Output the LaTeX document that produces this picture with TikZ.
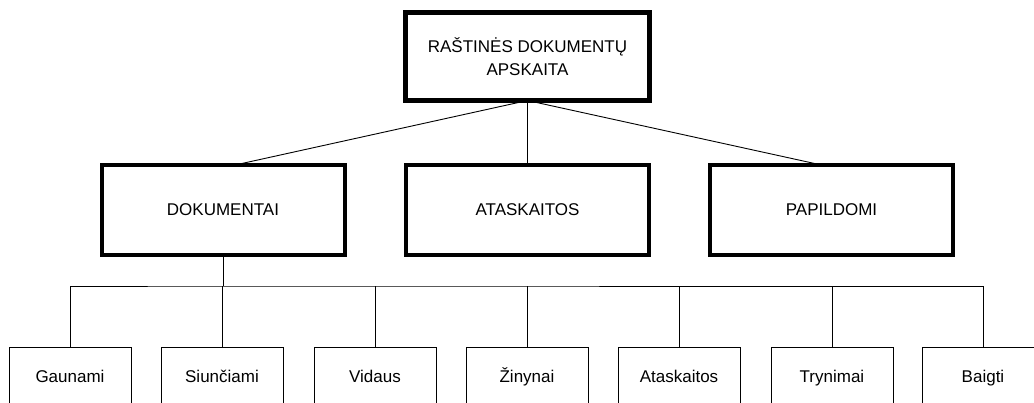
\documentclass[tikz,border=0pt]{standalone}
\usepackage{fontspec}
\setmainfont{Liberation Sans}
\begin{document}
\begin{tikzpicture}[x=1pt,y=-1pt,
  every node/.style={font=\fontsize{17}{23}\selectfont, inner sep=0pt, outer sep=0pt, align=center},
  rootbox/.style={draw, line width=5pt, minimum width=244pt, minimum height=88pt},
  groupbox/.style={draw, line width=4pt, minimum width=243pt, minimum height=90pt},
  leafbox/.style={draw, line width=1pt, minimum width=122pt, minimum height=62pt,
    text height=12.5pt, text depth=3.5pt},
  link/.style={line width=0.9pt}]
  \useasboundingbox (0,0) rectangle (1034,402);
  \clip (0,0) rectangle (1034,402);

  % top level
  \node[rootbox] (root) at (527.5,56.5) {RAŠTINĖS DOKUMENTŲ\\APSKAITA};

  % second level
  \node[groupbox] (dok) at (223,210) {DOKUMENTAI};
  \node[groupbox] (ata) at (527.5,210) {ATASKAITOS};
  \node[groupbox] (pap) at (831.5,210) {PAPILDOMI};

  \draw[link] (root.south) -- ([xshift=12pt]dok.north);
  \draw[link] (root.south) -- (ata.north);
  \draw[link] (root.south) -- ([xshift=-10pt]pap.north);

  % document kinds
  \node[leafbox] (l1) at (70,378) {Gaunami};
  \node[leafbox] (l2) at (222,378) {Siunčiami};
  \node[leafbox] (l3) at (375,378) {Vidaus};
  \node[leafbox] (l4) at (527,378) {Žinynai};
  \node[leafbox] (l5) at (679,378) {Ataskaitos};
  \node[leafbox] (l6) at (832,378) {Trynimai};
  \node[leafbox] (l7) at (983,378) {Baigti};

  % bus from DOKUMENTAI
  \coordinate (bus) at (223,286);
  \draw[link] (dok.south) -- (bus);
  \draw[link] (l1.north) |- (bus) -| (l7.north);
  \foreach \n in {l2,l3,l4,l5,l6}
    \draw[link] (\n.north) -- (\n.north |- bus);
\end{tikzpicture}
\end{document}
